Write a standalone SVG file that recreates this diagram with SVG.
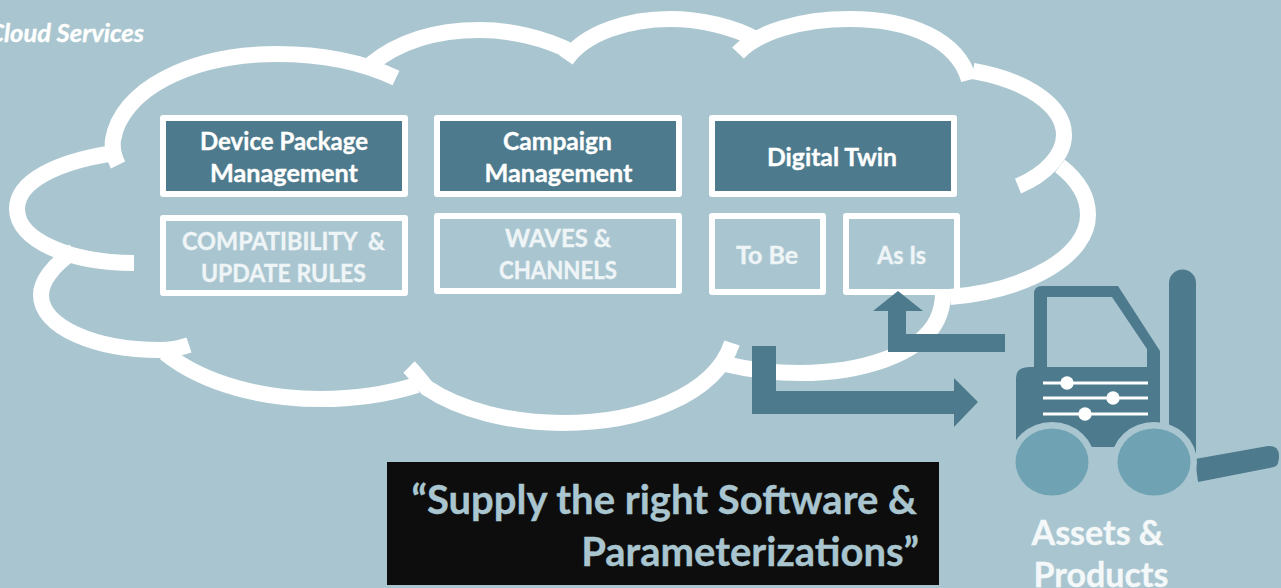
<svg xmlns="http://www.w3.org/2000/svg" width="1281" height="588" viewBox="0 0 1281 588">
<style>
text{font-family:"Lato","Liberation Sans",sans-serif;font-weight:700;text-anchor:middle;stroke-width:.35}
.c{fill:none;stroke:#fff;stroke-width:16}
.b{stroke:#fff;stroke-width:6;stroke-linejoin:round}
.d{fill:#4D7A8C}
.l{fill:none}
.t{font-size:24px;fill:#fff;stroke:#fff}
.u{font-size:24px;fill:#EFF5F7;stroke:#EFF5F7}
.q{font-size:40px;fill:#A9C6D0;stroke:#A9C6D0;text-anchor:end}
.a{font-size:34px;fill:#F4F8F9;stroke:#F4F8F9}
.h{fill:#A9C6D0}
.w{fill:#6FA3B3}
</style>
<rect width="1281" height="588" fill="#A9C6D0"/>
<g id="cloud">
<path class="c" d="M396,78C360,61 320,54 277,54C190,54 121,90 113,140C112,148 114,157 118,165"/>
<path class="c" d="M108,154C60,162 17,180 17,209C17,240 70,263 134,263"/>
<path class="c" d="M74,251C52,266 41,282 41,295C41,327 95,350 160,350C170,350 180,348 189,345"/>
<path class="c" d="M165,353C205,385 265,399 320,399C350,399 385,395 417,385"/>
<path class="c" d="M409,367C415,373 421,381 427,388C460,410 510,423 563,423C640,423 715,395 732,343"/>
<path class="c" d="M725,364C750,370 775,373 800,373C860,373 920,355 937,320C941,312 943,304 943,293"/>
<path class="c" d="M950,297C1030,290 1088,255 1088,215C1088,197 1078,180 1060,166"/>
<path class="c" d="M973,71C1025,80 1064,105 1064,135C1064,155 1045,175 1018,186"/>
<path class="c" d="M738,53C758,32 800,19 850,19C910,19 958,40 969,80"/>
<path class="c" d="M566,60C585,32 630,19 670,19C700,19 735,27 757,40"/>
<path class="c" d="M370,65C400,40 440,30 480,30C510,30 545,38 572,52"/>
</g>
<text id="cloud-label" x="144" y="42" class="t" style="text-anchor:end;font-style:italic;font-size:25.5px">Cloud Services</text>
<g id="device-package"><rect class="b d" x="163" y="118" width="242" height="76"/><text class="t" x="284" y="150" textLength="168" lengthAdjust="spacingAndGlyphs">Device Package</text><text class="t" x="284" y="182" textLength="148" lengthAdjust="spacingAndGlyphs">Management</text></g>
<g id="compatibility"><rect class="b l" x="163" y="218" width="242" height="75"/><text class="u" x="283.500" y="250" xml:space="preserve" textLength="203" lengthAdjust="spacingAndGlyphs">COMPATIBILITY  &amp;</text><text class="u" x="283.500" y="282" textLength="165" lengthAdjust="spacingAndGlyphs">UPDATE RULES</text></g>
<g id="campaign"><rect class="b d" x="437" y="118" width="242" height="76"/><text class="t" x="557.500" y="150" textLength="109" lengthAdjust="spacingAndGlyphs">Campaign</text><text class="t" x="558.500" y="182" textLength="148" lengthAdjust="spacingAndGlyphs">Management</text></g>
<g id="waves"><rect class="b l" x="437" y="216" width="242" height="75"/><text class="u" x="558" y="247" textLength="106" lengthAdjust="spacingAndGlyphs">WAVES &amp;</text><text class="u" x="558" y="279" textLength="118" lengthAdjust="spacingAndGlyphs">CHANNELS</text></g>
<g id="digital-twin"><rect class="b d" x="712" y="118" width="242" height="76"/><text class="t" x="832" y="166" textLength="130" lengthAdjust="spacingAndGlyphs">Digital Twin</text></g>
<g id="to-be"><rect class="b l" x="712" y="216" width="111" height="76"/><text class="u" x="767" y="264" textLength="62" lengthAdjust="spacingAndGlyphs">To Be</text></g>
<g id="as-is"><rect class="b l" x="846" y="216" width="111" height="76"/><text class="u" x="901.500" y="264" textLength="49" lengthAdjust="spacingAndGlyphs">As Is</text></g>
<g id="connectors">
<path class="d" d="M752,346H776V391H954V378L978,402L954,427V414H752Z"/>
<path class="d" d="M1005,334V352H888V311H873L898,291L923,311H906V334Z"/>
</g>
<g id="assets">
<path class="d" d="M1195,459L1268,446Q1279,445 1279,456Q1279,466 1274,467L1198,482Z"/>
<path class="d" d="M1169,455V283a13.5,13.5 0 0 1 27,0V455Z"/>
<path class="d" fill-rule="evenodd" d="M1016,447V378Q1016,367 1030,367H1034V294Q1034,286 1042,286H1118L1160,351V423L1115,447H1091ZM1047,297H1112L1147,349V367H1047Z"/>
<ellipse class="h" cx="1052" cy="462" rx="43" ry="40"/>
<ellipse class="h" cx="1154" cy="462" rx="43" ry="40"/>
<ellipse class="w" cx="1052" cy="462" rx="36.5" ry="33.5"/>
<ellipse class="w" cx="1154" cy="462" rx="36.5" ry="33.5"/>
<path d="M1043,383H1148M1043,398H1148M1043,414H1148" stroke="#fff" stroke-width="3" fill="none"/>
<circle cx="1067" cy="383" r="6.700" fill="#fff"/><circle cx="1113" cy="398" r="6.700" fill="#fff"/><circle cx="1085" cy="414" r="6.700" fill="#fff"/>
<text class="a" x="1097.500" y="545">Assets &amp;</text><text class="a" x="1101" y="587">Products</text>
</g>
<g id="quote"><rect x="387" y="462" width="552" height="123" fill="#0D0D0D"/>
<text class="q" x="917" y="514">“Supply the right Software &amp;</text><text class="q" x="919" y="566">Parameterizations”</text></g>
</svg>
